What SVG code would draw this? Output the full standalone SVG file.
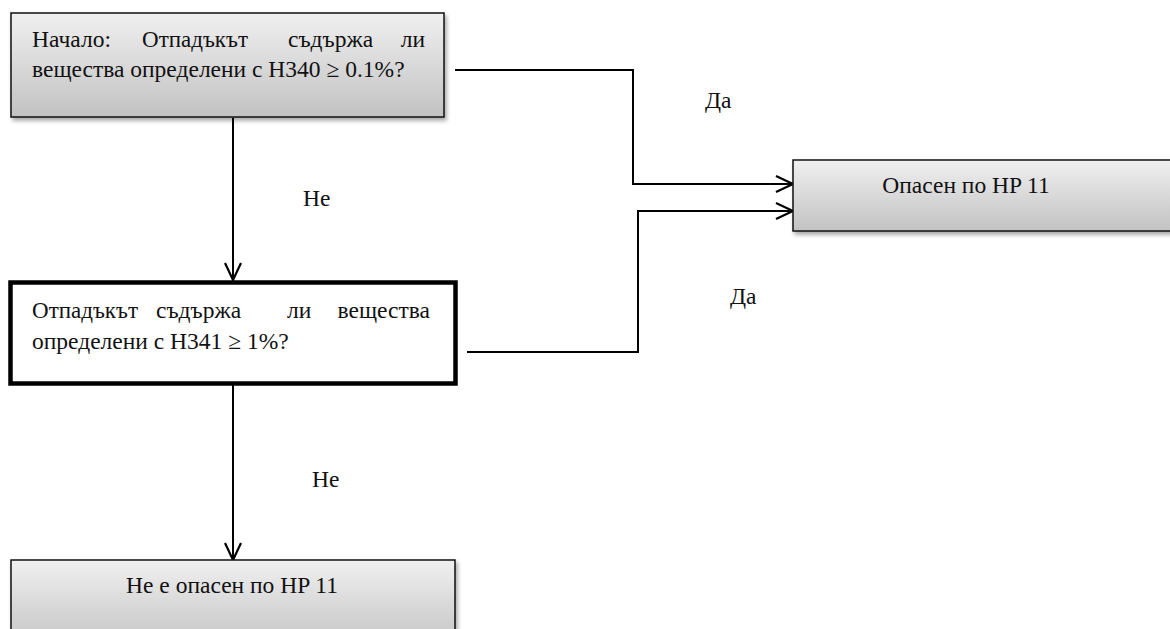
<svg xmlns="http://www.w3.org/2000/svg" width="1170" height="629" viewBox="0 0 1170 629">
  <defs>
    <linearGradient id="boxFill" x1="0" y1="0" x2="0" y2="1">
      <stop offset="0" stop-color="#f0f0f0"/>
      <stop offset="1" stop-color="#c2c2c2"/>
    </linearGradient>
    <filter id="shadow" x="-10%" y="-20%" width="120%" height="150%">
      <feGaussianBlur in="SourceAlpha" stdDeviation="2"/>
      <feOffset dx="2" dy="3" result="b"/>
      <feComponentTransfer><feFuncA type="linear" slope="0.35"/></feComponentTransfer>
      <feMerge><feMergeNode/><feMergeNode in="SourceGraphic"/></feMerge>
    </filter>
    <marker id="openArrow" viewBox="0 0 20 20" refX="18" refY="10" markerWidth="20" markerHeight="20" markerUnits="userSpaceOnUse" orient="auto">
      <path d="M1,2 L18,10 L1,18" fill="none" stroke="#000" stroke-width="2.2"/>
    </marker>
    <style>
      text { font-family: "Liberation Serif", "Times New Roman", serif; font-size: 23.5px; fill: #111; }
      .grad { fill: url(#boxFill); stroke: #111; stroke-width: 1.5; filter: url(#shadow); }
      .bold { fill: #fff; stroke: #000; stroke-width: 4.5; }
      .conn { fill: none; stroke: #000; stroke-width: 2; }
      .mid { text-anchor: middle; }
      .end { text-anchor: end; }
    </style>
  </defs>

  <rect width="1170" height="629" fill="#fff"/>

  <!-- connectors -->
  <g id="connectors">
    <polyline class="conn" points="455,70 633,70 633,184 793,184" marker-end="url(#openArrow)"/>
    <polyline class="conn" points="467,352 638,352 638,211 793,211" marker-end="url(#openArrow)"/>
    <line class="conn" x1="233" y1="118" x2="233" y2="280" marker-end="url(#openArrow)"/>
    <line class="conn" x1="233" y1="385" x2="233" y2="560" marker-end="url(#openArrow)"/>
    <text x="705" y="108">Да</text>
    <text x="730" y="304">Да</text>
    <text x="303" y="206">Не</text>
    <text x="312" y="487">Не</text>
  </g>

  <!-- start question (justified first line) -->
  <g id="start">
    <rect class="grad" x="11" y="13" width="433" height="104"/>
    <text y="47"><tspan x="32">Начало:</tspan><tspan x="142" textLength="106" lengthAdjust="spacingAndGlyphs">Отпадъкът</tspan><tspan x="288">съдържа</tspan><tspan x="425" class="end">ли</tspan></text>
    <text x="32" y="77">вещества определени с H340 ≥ 0.1%?</text>
  </g>

  <!-- second question (justified first line) -->
  <g id="question2">
    <rect class="bold" x="10.5" y="282.5" width="445" height="101"/>
    <text y="318"><tspan x="32" textLength="106" lengthAdjust="spacingAndGlyphs">Отпадъкът</tspan><tspan x="156">съдържа</tspan><tspan x="287">ли</tspan><tspan x="430" class="end">вещества</tspan></text>
    <text x="32" y="349">определени с H341 ≥ 1%?</text>
  </g>

  <!-- hazardous result -->
  <g id="hazardous">
    <rect class="grad" x="793" y="160" width="390" height="71"/>
    <text class="mid" x="966" y="193">Опасен по HP 11</text>
  </g>

  <!-- non-hazardous result -->
  <g id="nonHazardous">
    <rect class="grad" x="11" y="560" width="444" height="90"/>
    <text class="mid" x="232" y="593">Не е опасен по HP 11</text>
  </g>
</svg>
